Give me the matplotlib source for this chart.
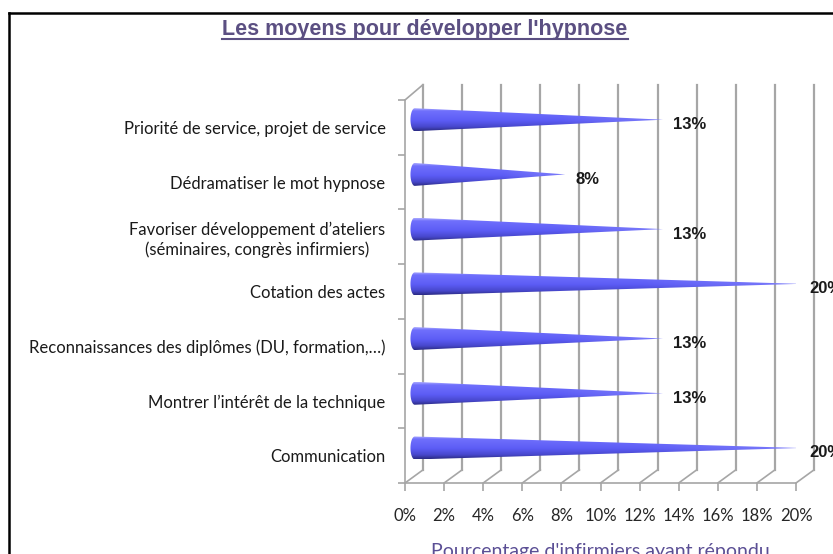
import numpy as np
import matplotlib
matplotlib.use('Agg')
import matplotlib.pyplot as plt
from matplotlib.patches import Polygon
from matplotlib.lines import Line2D

# ---------------- data ----------------
categories = [
    "Communication",
    "Montrer l’intérêt de la technique",
    "Reconnaissances des diplômes (DU, formation,…)",
    "Cotation des actes",
    "Favoriser développement d’ateliers\n(séminaires, congrès infirmiers)",
    "Dédramatiser le mot hypnose",
    "Priorité de service, projet de service",
]
values = [20, 13, 13, 20, 13, 8, 13]
value_labels = ["20%", "13%", "13%", "20%", "13%", "8%", "13%"]
x_ticks = [0, 2, 4, 6, 8, 10, 12, 14, 16, 18, 20]
x_ticklabels = ["0%", "2%", "4%", "6%", "8%", "10%", "12%", "14%", "16%", "18%", "20%"]
title = "Les moyens pour développer l'hypnose"
xlabel = "Pourcentage d'infirmiers ayant répondu"

# ---------------- figure ----------------
W, H = 833, 554
fig = plt.figure(figsize=(W / 100, H / 100), dpi=100)
fig.patch.set_facecolor('white')

ax = fig.add_axes([405 / W, 1 - 483 / H, (796 - 405) / W, (483 - 100) / H])
ax.set_facecolor('none')
n = len(categories)
ax.set_xlim(0, 20)
ax.set_ylim(-0.5, n - 0.5)

grid_c = '#a6a6a6'
dx, dy = 0.92, 0.24          # depth offset (data units)
ytop_back = n - 0.5 + 0.28

# back wall vertical gridlines + floor slants
for v in x_ticks:
    ax.add_line(Line2D([v + dx, v + dx], [-0.5 + dy, ytop_back], color=grid_c, lw=1.6,
                       clip_on=False, zorder=1))
    ax.add_line(Line2D([v, v + dx], [-0.5, -0.5 + dy], color=grid_c, lw=1.2,
                       clip_on=False, zorder=1))
# left wall top slant
ax.add_line(Line2D([0, dx], [n - 0.5, ytop_back], color=grid_c, lw=1.2, clip_on=False, zorder=1))

# spines / ticks
for s in ['top', 'right']:
    ax.spines[s].set_visible(False)
for s in ['left', 'bottom']:
    ax.spines[s].set_color(grid_c)
    ax.spines[s].set_linewidth(1.2)

ax.set_xticks(x_ticks)
ax.set_xticklabels(x_ticklabels, fontfamily='Lato', fontsize=12, color='#262626')
ax.tick_params(axis='x', length=6, width=1.2, color=grid_c, pad=12)

ax.set_yticks(range(n))
ax.set_yticklabels(categories, fontfamily='Lato', fontsize=12, color='#1a1a1a',
                   ha='right', multialignment='center', linespacing=1.25)
ax.tick_params(axis='y', which='major', length=0, pad=14)
ax.set_yticks(np.arange(-0.5, n, 1.0), minor=True)
ax.tick_params(axis='y', which='minor', length=5, width=1.2, color=grid_c)

# ---------------- cones ----------------
def cone_image(nr=60, nc=200):
    t = np.linspace(0, 1, nr)
    stops_t = [0.0, 0.12, 0.55, 0.82, 1.0]
    stops_c = np.array([[0.66, 0.66, 1.0],
                        [0.44, 0.44, 0.99],
                        [0.36, 0.36, 0.96],
                        [0.28, 0.28, 0.80],
                        [0.17, 0.17, 0.52]])
    img = np.zeros((nr, nc, 3))
    for k in range(3):
        col = np.interp(t, stops_t, stops_c[:, k])
        img[:, :, k] = col[:, None]
    s = np.linspace(0, 1, nc)[None, :]
    fade = np.clip((s - 0.6) / 0.4, 0, 1)[..., None] * 0.5
    light = np.array([0.6, 0.6, 1.0])
    img = img * (1 - fade) + light * fade
    return img

img = cone_image()
xb, ew, hh, yoff = 0.5, 0.22, 0.21, 0.14
for i, v in enumerate(values):
    yc = i + yoff
    tip = v + 0.2
    th = np.linspace(np.pi / 2, 3 * np.pi / 2, 40)
    pts = [(xb + ew * np.cos(a), yc + hh * np.sin(a)) for a in th]
    pts.append((tip, yc))
    poly = Polygon(pts, closed=True, transform=ax.transData, facecolor='none',
                   edgecolor='none')
    ax.add_patch(poly)
    im = ax.imshow(img, extent=[xb - ew, tip, yc - hh, yc + hh], origin='upper',
                   aspect='auto', zorder=3, interpolation='bilinear')
    im.set_clip_path(poly)
    ax.text(v + 0.7, i + 0.05, value_labels[i], fontfamily='Liberation Sans',
            fontweight='bold', fontsize=12, color='#1a1a1a', ha='left', va='center',
            zorder=5, clip_on=False)

ax.set_xlim(0, 20)
ax.set_ylim(-0.5, n - 0.5)

# ---------------- titles ----------------
title_c = '#5b4f82'
t = fig.text(425 / W, 1 - 34.5 / H, title, ha='center', va='baseline',
             fontfamily='Liberation Sans', fontweight='bold', fontsize=15.5, color=title_c)
fig.text(600 / W, 1 - 557 / H, xlabel, ha='center', va='baseline',
         fontfamily='Lato', fontsize=14, color='#5b4f95')

fig.canvas.draw()
bb = t.get_window_extent()
fig.add_artist(Line2D([bb.x0 / W, bb.x1 / W], [1 - 39 / H, 1 - 39 / H],
                      color=title_c, lw=1.5))

# frame border
fig.add_artist(Line2D([9 / W, 9 / W], [0, 1 - 13 / H], color='black', lw=1.8))
fig.add_artist(Line2D([9 / W, 1], [1 - 13 / H, 1 - 13 / H], color='black', lw=1.8))

fig.savefig('out.png', dpi=100, facecolor='white')
